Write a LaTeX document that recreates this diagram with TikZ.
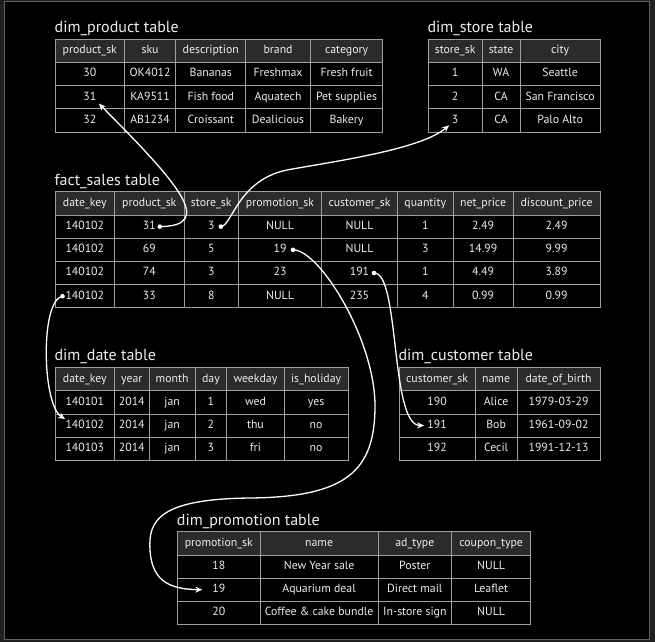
\documentclass[tikz,border=0pt]{standalone}
\usepackage{fontspec}
\setmainfont{PT Sans}
\usetikzlibrary{matrix,arrows.meta}

\definecolor{bgout}{gray}{0.13}
\definecolor{framegray}{gray}{0.38}
\definecolor{hdrfill}{gray}{0.17}
\definecolor{gridgray}{gray}{0.62}
\definecolor{celltext}{gray}{0.93}

\tikzset{
  dbtable/.style={matrix of nodes, anchor=north west, inner sep=0pt, line width=0.8pt,
    column sep=-\pgflinewidth, row sep=-\pgflinewidth,
    nodes={draw=gridgray, text=celltext, font=\fontsize{11.8}{13}\selectfont,
      minimum height=23.2pt, text height=8.4pt, text depth=2.6pt, inner sep=1pt},
    row 1/.style={nodes={fill=hdrfill}}},
  colw/.style 2 args={column #1/.style={nodes={minimum width=#2}}},
  tabletitle/.style={anchor=base west, inner sep=0pt, text=celltext,
    font=\fontsize{16}{19}\selectfont},
  fkline/.style={draw=white, line width=1.3pt, -{Stealth[length=7pt,width=6pt]}},
  fkdot/.style={fill=white}
}

\begin{document}
\begin{tikzpicture}[x=1pt,y=-1pt]
  \useasboundingbox (0,0) rectangle (655,642);
  \fill[bgout] (0,0) rectangle (655,642);
  \draw[framegray, line width=1pt, fill=black] (4,1.5) rectangle (649.3,639.3);

  % dimension and fact tables
  \node[tabletitle] (prodtitle) at (54.5,32.3) {dim\_product table};
  \matrix (prod) [dbtable, colw={1}{69pt}, colw={2}{51.5pt}, colw={3}{70pt},
    colw={4}{64.5pt}, colw={5}{72.5pt}] at (54.5,38.3) {
    product\_sk & sku & description & brand & category \\
    30 & OK4012 & Bananas & Freshmax & Fresh fruit \\
    31 & KA9511 & Fish food & Aquatech & Pet supplies \\
    32 & AB1234 & Croissant & Dealicious & Bakery \\
  };

  \node[tabletitle] (storetitle) at (427.3,32.3) {dim\_store table};
  \matrix (store) [dbtable, colw={1}{54pt}, colw={2}{38pt}, colw={3}{80pt}]
    at (427.3,38.3) {
    store\_sk & state & city \\
    1 & WA & Seattle \\
    2 & CA & San Francisco \\
    3 & CA & Palo Alto \\
  };

  \node[tabletitle] (facttitle) at (54.3,185) {fact\_sales table};
  \matrix (fact) [dbtable, colw={1}{59.4pt}, colw={2}{69.6pt}, colw={3}{54.4pt},
    colw={4}{83pt}, colw={5}{76pt}, colw={6}{55.6pt}, colw={7}{60pt},
    colw={8}{87pt}] at (54.3,191) {
    date\_key & product\_sk & store\_sk & promotion\_sk & customer\_sk & quantity & net\_price & discount\_price \\
    140102 & 31 & 3 & NULL & NULL & 1 & 2.49 & 2.49 \\
    140102 & 69 & 5 & 19 & NULL & 3 & 14.99 & 9.99 \\
    140102 & 74 & 3 & 23 & 191 & 1 & 4.49 & 3.89 \\
    140102 & 33 & 8 & NULL & 235 & 4 & 0.99 & 0.99 \\
  };

  \node[tabletitle] (datetitle) at (54.3,360.7) {dim\_date table};
  \matrix (date) [dbtable, colw={1}{59.4pt}, colw={2}{34.6pt}, colw={3}{46pt},
    colw={4}{31.7pt}, colw={5}{57.3pt}, colw={6}{64pt}] at (54.3,366.7) {
    date\_key & year & month & day & weekday & is\_holiday \\
    140101 & 2014 & jan & 1 & wed & yes \\
    140102 & 2014 & jan & 2 & thu & no \\
    140103 & 2014 & jan & 3 & fri & no \\
  };

  \node[tabletitle] (custtitle) at (398.3,360.7) {dim\_customer table};
  \matrix (cust) [dbtable, colw={1}{76pt}, colw={2}{42pt}, colw={3}{83pt}]
    at (398.3,366.7) {
    customer\_sk & name & date\_of\_birth \\
    190 & Alice & 1979-03-29 \\
    191 & Bob & 1961-09-02 \\
    192 & Cecil & 1991-12-13 \\
  };

  \node[tabletitle] (promotitle) at (176.7,525) {dim\_promotion table};
  \matrix (promo) [dbtable, colw={1}{82.6pt}, colw={2}{118pt}, colw={3}{73.4pt},
    colw={4}{79.3pt}] at (176.7,531) {
    promotion\_sk & name & ad\_type & coupon\_type \\
    18 & New Year sale & Poster & NULL \\
    19 & Aquarium deal & Direct mail & Leaflet \\
    20 & Coffee \& cake bundle & In-store sign & NULL \\
  };

  % foreign key ends
  \coordinate (s31) at ([xshift=10.5pt]fact-2-2.center);
  \coordinate (s3) at ([xshift=9.5pt]fact-2-3.center);
  \coordinate (s19) at ([xshift=13pt]fact-3-4.center);
  \coordinate (s191) at ([xshift=14.5pt]fact-4-5.center);
  \coordinate (sdate) at ([xshift=-22.3pt]fact-5-1.center);
  \coordinate (t31) at ([xshift=9pt,yshift=-6.5pt]prod-3-1.center);
  \coordinate (t3) at ([xshift=-6pt,yshift=-5pt]store-4-1.center);
  \coordinate (t191) at ([xshift=-13pt]cust-3-1.center);
  \coordinate (t19) at ([xshift=-16.5pt]promo-3-1.center);
  \coordinate (tdate) at ([xshift=-19.7pt,yshift=6.5pt]date-3-1.center);

  \draw[fkline] (s31) .. controls (215,226) and (180,185) .. (t31);
  \draw[fkline] (s3) .. controls (232,226) and (238,180) .. (287,170)
    .. controls (330,162) and (420,150) .. (t3);
  \draw[fkline] (s19) .. controls (320,250) and (375,340) .. (375,406)
    .. controls (375,472) and (345,497) .. (250,498)
    .. controls (160,499) and (148,520) .. (150,550)
    .. controls (152,585) and (175,589) .. (t19);
  \draw[fkline] (s191) .. controls (400,272) and (390,425) .. (t191);
  \draw[fkline] (sdate) .. controls (40,300) and (42,405) .. (tdate);

  \foreach \d in {s31,s3,s19,s191,sdate}
    \fill[fkdot] (\d) circle (2.3pt);
\end{tikzpicture}
\end{document}
